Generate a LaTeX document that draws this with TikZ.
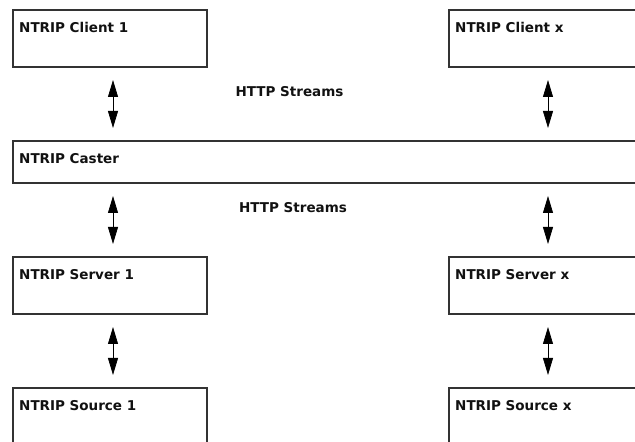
\documentclass[tikz,border=0pt]{standalone}
\usepackage{fontspec}
\setsansfont{DejaVu Sans}
\usetikzlibrary{arrows.meta}

\definecolor{nEdge}{HTML}{333333}
\definecolor{nInk}{HTML}{111111}

% box with its title in the top left corner
\newcommand{\nbox}[5]{%
  \node[unit, minimum width=#3, minimum height=#4] (#1) at (#2) {};
  \node[unitname] (#1-name) at ([xshift=6pt,yshift=-23pt]#1.north west) {#5};}

\begin{document}
\begin{tikzpicture}[
  x=1pt, y=1pt,
  unit/.style={draw=nEdge, line width=1.1pt, outer sep=0pt, inner sep=0pt, fill=white},
  unitname/.style={anchor=base west, inner sep=0pt, text=nInk,
    font=\sffamily\bfseries\fontsize{13.5}{16}\selectfont},
  streamlab/.style={anchor=base, inner sep=0pt, text=nInk,
    font=\sffamily\bfseries\fontsize{13.5}{16}\selectfont},
  flow/.style={line width=.8pt, {Triangle[length=17pt,width=10pt]}-{Triangle[length=17pt,width=10pt]},
    shorten <=13pt, shorten >=13pt},
]
\clip (0,0) rectangle (635,442);

% ---- boxes ---------------------------------------------------------------
\nbox{client1}{110,403.5}{194}{57}{NTRIP Client 1}
\nbox{clientx}{546,403.5}{194}{57}{NTRIP Client x}
\nbox{caster}{333,280}{640}{42}{NTRIP Caster}
\nbox{server1}{110,156.5}{194}{57}{NTRIP Server 1}
\nbox{serverx}{546,156.5}{194}{57}{NTRIP Server x}
\nbox{source1}{110,25.5}{194}{57}{NTRIP Source 1}
\nbox{sourcex}{546,25.5}{194}{57}{NTRIP Source x}

% ---- stream labels -------------------------------------------------------
\node[streamlab] (httpup) at (289.5,345) {HTTP Streams};
\node[streamlab] (httpdown) at (293,229) {HTTP Streams};

% ---- arrows --------------------------------------------------------------
\draw[flow] ([xshift=3pt]client1.south) -- ([xshift=3pt]client1.south |- caster.north);
\draw[flow] ([xshift=2pt]clientx.south) -- ([xshift=2pt]clientx.south |- caster.north);
\draw[flow] ([xshift=3pt]server1.north |- caster.south) -- ([xshift=3pt]server1.north);
\draw[flow] ([xshift=2pt]serverx.north |- caster.south) -- ([xshift=2pt]serverx.north);
\draw[flow] ([xshift=3pt]server1.south) -- ([xshift=3pt]source1.north);
\draw[flow] ([xshift=2pt]serverx.south) -- ([xshift=2pt]sourcex.north);
\end{tikzpicture}
\end{document}
